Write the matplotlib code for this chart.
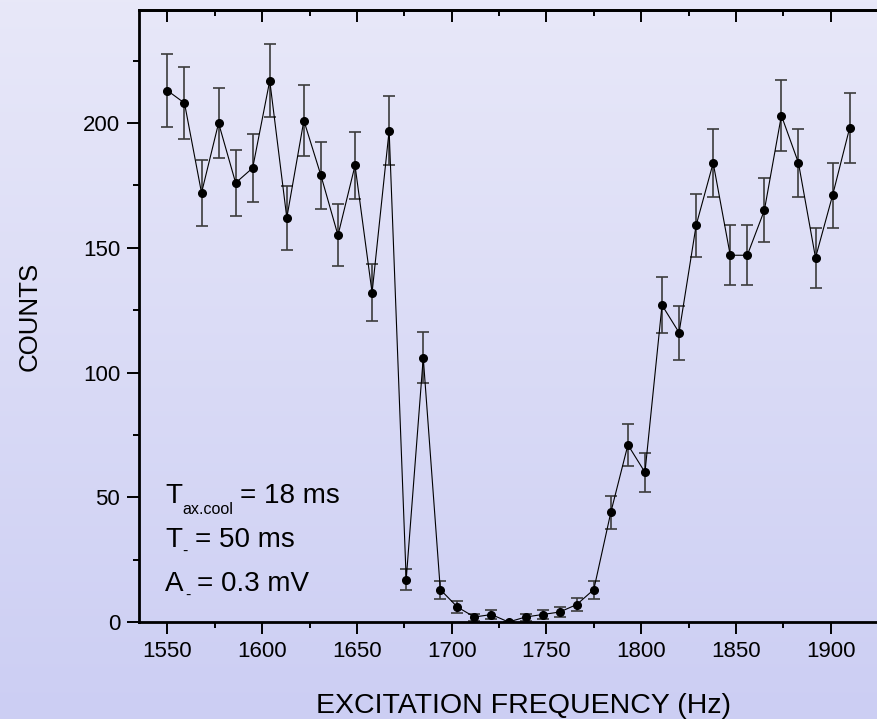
"""Resonance scan: counts vs excitation frequency"""
import numpy as np
import matplotlib
matplotlib.use("Agg")
from matplotlib import pyplot as plt
from matplotlib.ticker import MultipleLocator

plt.rcParams['font.family'] = ['Liberation Sans', 'DejaVu Sans']

# data
freq = [1550, 1559, 1568, 1577, 1586, 1595, 1604, 1613, 1622, 1631, 1640,
        1649, 1658, 1667, 1676, 1685, 1694, 1703, 1712, 1721, 1730, 1739,
        1748, 1757, 1766, 1775, 1784, 1793, 1802, 1811, 1820, 1829, 1838,
        1847, 1856, 1865, 1874, 1883, 1892, 1901, 1910]
counts = [213, 208, 172, 200, 176, 182, 217, 162, 201, 179, 155,
          183, 132, 197, 17, 106, 13, 6, 2, 3, 0, 2,
          3, 4, 7, 13, 44, 71, 60, 127, 116, 159, 184,
          147, 147, 165, 203, 184, 146, 171, 198]
errors = [14.6, 14.4, 13.1, 14.1, 13.3, 13.5, 14.7, 12.7, 14.2, 13.4, 12.4,
          13.5, 11.5, 14.0, 4.1, 10.3, 3.6, 2.4, 1.4, 1.7, 0.0, 1.4,
          1.7, 2.0, 2.6, 3.6, 6.6, 8.4, 7.7, 11.3, 10.8, 12.6, 13.6,
          12.1, 12.1, 12.8, 14.2, 13.6, 12.1, 13.1, 14.1]

W, H = 877, 719
fig = plt.figure(figsize=(W / 100, H / 100), dpi=100)

# lavender gradient background (figure-level image, behind everything)
top = np.array([0.910, 0.910, 0.976])
bot = np.array([0.800, 0.808, 0.953])
t = np.linspace(0, 1, H)[:, None, None]
grad = np.broadcast_to(top * (1 - t) + bot * t, (H, W, 3)).copy()
fig.figimage(grad, xo=0, yo=0, zorder=-10, origin='upper')

ax = fig.add_axes([139 / W, (H - 622) / H, 758 / W, 612 / H])
ax.set_facecolor('none')
ax.set_xlim(1535, 1935)
ax.set_ylim(0, 245.3)

# top axis: ticks pointing inward, no labels
ax2 = ax.twiny()
ax2.set_xlim(1535, 1935)
ax2.xaxis.set_major_locator(MultipleLocator(50))
ax2.xaxis.set_minor_locator(MultipleLocator(25))
ax2.spines['top'].set_linewidth(2)
ax2.tick_params(axis='x', which='both', direction='in', width=1.4,
                color='black', top=True, bottom=False,
                labeltop=False, labelbottom=False)
ax2.tick_params(axis='x', which='major', length=8.6)
ax2.tick_params(axis='x', which='minor', length=4.3)

ax.errorbar(freq, counts, yerr=errors, fmt='none', ecolor='#3c3c3c',
            elinewidth=1.2, capsize=4.3, capthick=1.2, zorder=2)
ax.plot(freq, counts, color='black', lw=0.8, marker='o', ms=5.5,
        mfc='black', mec='black', zorder=3)

ax.xaxis.set_major_locator(MultipleLocator(50))
ax.xaxis.set_minor_locator(MultipleLocator(25))
ax.yaxis.set_major_locator(MultipleLocator(50))
ax.yaxis.set_minor_locator(MultipleLocator(25))

for s in ax.spines.values():
    s.set_linewidth(2)
ax.tick_params(axis='both', which='both', width=1.4, labelsize=16,
               direction='out')
ax.tick_params(axis='both', which='major', length=8.6, pad=5)
ax.tick_params(axis='both', which='minor', length=4.3)

# axis labels
fig.text(524 / W, 1 - 706 / H, 'EXCITATION FREQUENCY (Hz)', fontsize=20.5,
         ha='center', va='center')
fig.text(30 / W, 1 - 316 / H, 'COUNTS', fontsize=18.6, rotation=90,
         ha='center', va='center')

# parameter block
def ptxt(x, y, s, size):
    fig.text(x / W, 1 - y / H, s, fontsize=size, ha='left', va='baseline')

ptxt(165, 503, 'T', 20)
ptxt(182, 514, 'ax.cool', 11.6)
ptxt(240, 503, '= 18 ms', 20)
ptxt(165, 547, 'T', 20)
ptxt(182, 556, '-', 11.6)
ptxt(195, 547, '= 50 ms', 20)
ptxt(165, 591, 'A', 20)
ptxt(185, 600, '-', 11.6)
ptxt(197, 591, '= 0.3 mV', 20)

fig.savefig('out.png', dpi=100)
